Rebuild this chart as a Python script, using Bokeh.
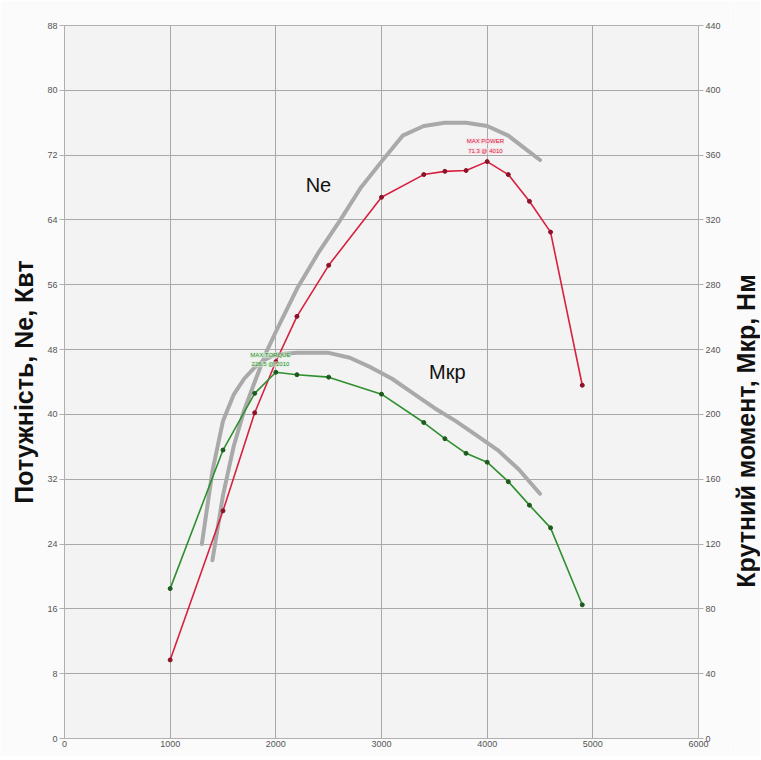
import math
from bokeh.plotting import figure
from bokeh.layouts import row
from bokeh.models import Range1d, LinearAxis, FixedTicker, Label
from bokeh.embed import file_html
from bokeh.resources import INLINE

# measured data
rpm = [1000, 1500, 1800, 2000, 2200, 2500, 3000, 3400, 3600, 3800, 4000, 4200, 4400, 4600, 4900]
power_kw = [9.7, 28.1, 40.2, 46.5, 52.1, 58.4, 66.8, 69.6, 70.0, 70.1, 71.2, 69.6, 66.3, 62.5, 43.6]
torque_nm = [92.5, 178, 213, 226, 224.5, 223, 212.5, 195, 185, 176, 170.5, 158.5, 144, 130, 82.5]

# reference (gray) curves
ref_power_rpm = [1400, 1500, 1600, 1700, 1800, 1900, 2000, 2200, 2400, 2600, 2800, 3000, 3200, 3400, 3600, 3800, 4000, 4200, 4350, 4500]
ref_power_kw = [22, 30, 36, 40.5, 44, 47.4, 50.2, 55.5, 59.9, 63.8, 67.9, 71.2, 74.4, 75.6, 76.0, 76.0, 75.6, 74.4, 72.9, 71.4]
ref_torque_rpm = [1300, 1400, 1500, 1600, 1700, 1800, 1900, 2000, 2200, 2500, 2700, 2900, 3100, 3300, 3500, 3700, 3900, 4100, 4300, 4500]
ref_torque_nm = [120, 165, 196, 212, 222, 229, 234, 237, 238, 238, 235, 229, 222, 213, 204, 196, 187, 178, 166, 151]

x_ticks = [0, 1000, 2000, 3000, 4000, 5000, 6000]
power_ticks = [0, 8, 16, 24, 32, 40, 48, 56, 64, 72, 80, 88]
torque_ticks = [0, 40, 80, 120, 160, 200, 240, 280, 320, 360, 400, 440]

FONT = "Liberation Sans"
BORDER = "#fbfbfb"
TITLE_SIZE = "25px"

p = figure(width=730, height=756, output_backend="svg", toolbar_location=None,
           x_range=Range1d(0, 6000), y_range=Range1d(0, 88),
           min_border_left=64, min_border_right=32, min_border_top=25, min_border_bottom=18)
p.extra_y_ranges = {"torque": Range1d(0, 440)}
p.background_fill_color = "#f3f3f3"
p.border_fill_color = BORDER
p.outline_line_color = "#b0b0b0"

p.xgrid.ticker = FixedTicker(ticks=x_ticks)
p.ygrid.ticker = FixedTicker(ticks=power_ticks)
for g in (p.xgrid, p.ygrid):
    g.grid_line_color = "#a8a8a8"
    g.grid_line_width = 1

def style_axis(ax):
    ax.major_label_text_font = FONT
    ax.major_label_text_font_size = "9px"
    ax.major_label_text_color = "#555555"
    ax.axis_line_color = "#b0b0b0"
    ax.major_tick_line_color = "#b0b0b0"
    ax.major_tick_out = 5
    ax.major_tick_in = 0
    ax.minor_tick_out = 0
    ax.minor_tick_in = 0
    ax.major_label_standoff = 2
    ax.axis_label_text_font = FONT
    ax.axis_label_text_font_style = "bold"
    ax.axis_label_text_font_size = TITLE_SIZE
    ax.axis_label_text_color = "#111111"

p.xaxis.ticker = FixedTicker(ticks=x_ticks)
p.yaxis.ticker = FixedTicker(ticks=power_ticks)
p.yaxis.axis_label = "Потужність, Ne, Квт"
p.yaxis.axis_label_standoff = 6
style_axis(p.xaxis[0])
style_axis(p.yaxis[0])
p.xaxis.major_tick_out = 0

right = LinearAxis(y_range_name="torque", ticker=FixedTicker(ticks=torque_ticks))
style_axis(right)
p.add_layout(right, "right")

# gray reference curves
p.line(ref_power_rpm, ref_power_kw, line_color="#a9a9a9", line_width=4, line_cap="round", line_join="round")
p.line(ref_torque_rpm, ref_torque_nm, y_range_name="torque", line_color="#a9a9a9", line_width=4,
       line_cap="round", line_join="round")

# measured curves
p.line(rpm, power_kw, line_color="#d8203f", line_width=1.6)
p.scatter(rpm, power_kw, size=4, color="#8c1228")
p.line(rpm, torque_nm, y_range_name="torque", line_color="#2f8f2f", line_width=1.6)
p.scatter(rpm, torque_nm, y_range_name="torque", size=4, color="#1d5a1d")

# labels
p.add_layout(Label(x=2403, y=68.3, text="Ne", text_font=FONT, text_font_size="20px",
                   text_color="#111111", text_align="center", text_baseline="middle"))
p.add_layout(Label(x=3623, y=45.2, text="Мкр", text_font=FONT, text_font_size="20px",
                   text_color="#111111", text_align="center", text_baseline="middle"))

for t, yy in (("MAX POWER", 73.7), ("71.3 @ 4010", 72.5)):
    p.add_layout(Label(x=3983, y=yy, text=t, text_font=FONT, text_font_size="6px",
                       text_color="#d8203f", text_align="center", text_baseline="middle",
                       background_fill_color="#f7d9df", background_fill_alpha=0.6))
for t, yy in (("MAX TORQUE", 47.3), ("226.5 @ 2010", 46.2)):
    p.add_layout(Label(x=1949, y=yy, text=t, text_font=FONT, text_font_size="6px",
                       text_color="#2f8f2f", text_align="center", text_baseline="middle",
                       background_fill_color="#d9f0d9", background_fill_alpha=0.6))

# narrow strip holding the right-hand axis title (reads bottom-to-top)
t = figure(width=30, height=756, output_backend="svg", toolbar_location=None,
           x_range=Range1d(0, 30), y_range=Range1d(0, 756),
           x_axis_location=None, y_axis_location=None,
           min_border=0, min_border_left=0, min_border_right=0, min_border_top=0, min_border_bottom=0)
t.grid.visible = False
t.outline_line_color = None
t.background_fill_color = BORDER
t.border_fill_color = BORDER
t.add_layout(Label(x=15, y=326, text="Крутний момент, Мкр, Нм", angle=math.pi / 2,
                   text_font=FONT, text_font_style="bold", text_font_size=TITLE_SIZE,
                   text_color="#111111", text_align="center", text_baseline="middle"))

layout = row(p, t, spacing=0)
open("out.html", "w").write(file_html(layout, INLINE))
